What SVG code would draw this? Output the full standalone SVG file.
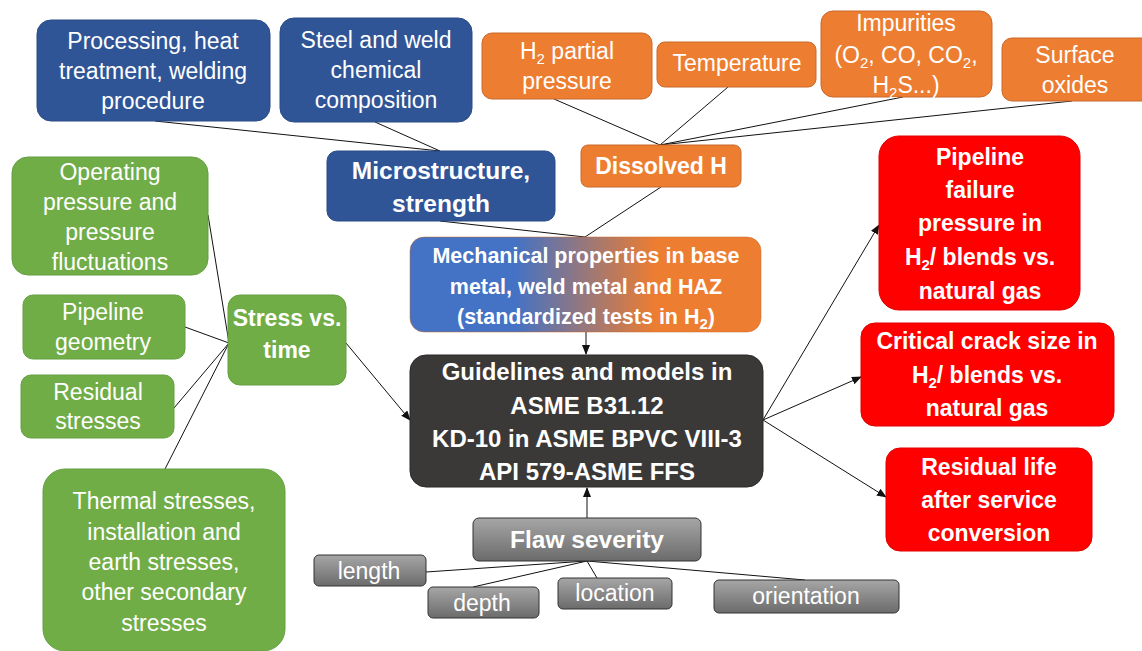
<svg xmlns="http://www.w3.org/2000/svg" width="1142" height="651" viewBox="0 0 1142 651">
<style>
text{font-family:"Liberation Sans",Arial,sans-serif;fill:#fff;text-anchor:middle}
.r{font-size:23px}
.b{font-size:23px;font-weight:bold}
.bl{font-size:24.5px;font-weight:bold}
.bg{font-size:24px;font-weight:bold}
.bm{font-size:21.5px;font-weight:bold}
.blue{fill:#2F5597;stroke:#2a4b85;stroke-width:1}
.orange{fill:#ED7D31;stroke:#c9692a;stroke-width:1}
.green{fill:#70AD47;stroke:#64a03f;stroke-width:1}
.red{fill:#FF0000;stroke:#e00000;stroke-width:1}
.dark{fill:#3B3838;stroke:#2a2828;stroke-width:1}
.gray{fill:url(#gg);stroke:#333;stroke-width:1}
.ln{stroke:#111;stroke-width:1;fill:none}
.ar{stroke:#111;stroke-width:1;fill:none;marker-end:url(#ah)}
.sub{font-size:15px}
</style>
<defs>
<linearGradient id="gg" x1="0" y1="0" x2="0" y2="1"><stop offset="0" stop-color="#a6a6a6"/><stop offset="1" stop-color="#6b6b6b"/></linearGradient>
<linearGradient id="mg" x1="0" y1="0" x2="1" y2="0"><stop offset="0" stop-color="#4472C4"/><stop offset="0.3" stop-color="#4472C4"/><stop offset="0.7" stop-color="#ED7D31"/><stop offset="1" stop-color="#ED7D31"/></linearGradient>
<marker id="ah" markerWidth="10" markerHeight="8" refX="9" refY="4" orient="auto" markerUnits="userSpaceOnUse"><path d="M0,0 L10,4 L0,8 z" fill="#111"/></marker>
</defs>
<g id="connectors">
<path class="ln" d="M155,121 L440,151"/>
<path class="ln" d="M375,122 L440,151"/>
<path class="ln" d="M440,221 L585,237"/>
<path class="ln" d="M661,187 L585,237"/>
<path class="ln" d="M554,99 L660,145"/>
<path class="ln" d="M728,87 L660,145"/>
<path class="ln" d="M903,97 L660,145"/>
<path class="ln" d="M1072,101 L660,145"/>
<path class="ar" d="M586,332 L586,354"/>
<path class="ar" d="M587,518 L587,488"/>
<path class="ln" d="M587,561 L426,572"/>
<path class="ln" d="M587,561 L473,587"/>
<path class="ln" d="M587,561 L597,578"/>
<path class="ln" d="M587,561 L805,580"/>
<path class="ln" d="M208,215 L229,343"/>
<path class="ln" d="M185,327 L229,343"/>
<path class="ln" d="M174,408 L229,343"/>
<path class="ln" d="M165,469 L229,343"/>
<path class="ar" d="M346,343 L410,420"/>
<path class="ar" d="M763,420 L879,225"/>
<path class="ar" d="M763,420 L861,377"/>
<path class="ar" d="M763,420 L886,497"/>
</g>
<g id="processing"><rect class="blue" x="37" y="20" width="233" height="101" rx="14"/>
<text class="r"><tspan x="153" y="49">Processing, heat</tspan><tspan x="153" y="79">treatment, welding</tspan><tspan x="153" y="109">procedure</tspan></text></g>
<g id="steel"><rect class="blue" x="280" y="18" width="192" height="104" rx="14"/>
<text class="r"><tspan x="376" y="48">Steel and weld</tspan><tspan x="376" y="78">chemical</tspan><tspan x="376" y="108">composition</tspan></text></g>
<g id="microstructure"><rect class="blue" x="327" y="151" width="228" height="70" rx="10"/>
<text class="bl"><tspan x="441" y="179">Microstructure,</tspan><tspan x="441" y="212">strength</tspan></text></g>
<g id="h2pp"><rect class="orange" x="482" y="33" width="170" height="66" rx="10"/>
<text class="r"><tspan x="567" y="59">H<tspan class="sub" dy="5">2</tspan><tspan dy="-5"> partial</tspan></tspan><tspan x="567" y="89">pressure</tspan></text></g>
<g id="temperature"><rect class="orange" x="657" y="42" width="159" height="45" rx="8"/>
<text class="r" x="737" y="71">Temperature</text></g>
<g id="impurities"><rect class="orange" x="821" y="11" width="171" height="86" rx="12"/>
<text class="r"><tspan x="906" y="31">Impurities</tspan><tspan x="906" y="63">(O<tspan class="sub" dy="5">2</tspan><tspan dy="-5">, CO, CO</tspan><tspan class="sub" dy="5">2</tspan><tspan dy="-5">,</tspan></tspan><tspan x="906" y="93">H<tspan class="sub" dy="5">2</tspan><tspan dy="-5">S...)</tspan></tspan></text></g>
<g id="surface"><rect class="orange" x="1002" y="38" width="150" height="63" rx="10"/>
<text class="r"><tspan x="1075" y="63">Surface</tspan><tspan x="1075" y="93">oxides</tspan></text></g>
<g id="dissolved"><rect class="orange" x="581" y="145" width="160" height="42" rx="7"/>
<text class="b" x="661" y="174">Dissolved H</text></g>
<g id="mechanical"><rect x="410" y="237" width="351" height="95" rx="14" fill="url(#mg)" stroke="#c9692a" stroke-width="0.5"/>
<text class="bm"><tspan x="586" y="263">Mechanical properties in base</tspan><tspan x="586" y="294">metal, weld metal and HAZ</tspan><tspan x="586" y="324">(standardized tests in H<tspan class="sub" dy="5">2</tspan><tspan dy="-5">)</tspan></tspan></text></g>
<g id="guidelines"><rect class="dark" x="410" y="355" width="353" height="132" rx="16"/>
<text class="bg"><tspan x="587" y="380">Guidelines and models in</tspan><tspan x="587" y="414">ASME B31.12</tspan><tspan x="587" y="447">KD-10 in ASME BPVC VIII-3</tspan><tspan x="587" y="480">API 579-ASME FFS</tspan></text></g>
<g id="flaw"><rect class="gray" x="473" y="518" width="228" height="43" rx="6"/>
<text class="bl" x="587" y="548">Flaw severity</text></g>
<g id="length"><rect class="gray" x="314" y="555" width="112" height="31" rx="5"/>
<text class="r" x="369" y="579">length</text></g>
<g id="depth"><rect class="gray" x="428" y="587" width="111" height="31" rx="5"/>
<text class="r" x="482" y="611">depth</text></g>
<g id="location"><rect class="gray" x="558" y="578" width="114" height="31" rx="5"/>
<text class="r" x="615" y="601">location</text></g>
<g id="orientation"><rect class="gray" x="714" y="580" width="185" height="33" rx="5"/>
<text class="r" x="806" y="604">orientation</text></g>
<g id="operating"><rect class="green" x="12" y="157" width="196" height="118" rx="16"/>
<text class="r"><tspan x="110" y="180">Operating</tspan><tspan x="110" y="210">pressure and</tspan><tspan x="110" y="240">pressure</tspan><tspan x="110" y="270">fluctuations</tspan></text></g>
<g id="geometry"><rect class="green" x="23" y="295" width="162" height="64" rx="10"/>
<text class="r"><tspan x="103" y="320">Pipeline</tspan><tspan x="103" y="350">geometry</tspan></text></g>
<g id="residual"><rect class="green" x="21" y="375" width="153" height="63" rx="10"/>
<text class="r"><tspan x="98" y="400">Residual</tspan><tspan x="98" y="429">stresses</tspan></text></g>
<g id="thermal"><rect class="green" x="43" y="469" width="242" height="182" rx="22"/>
<text class="r"><tspan x="164" y="509">Thermal stresses,</tspan><tspan x="164" y="540">installation and</tspan><tspan x="164" y="570">earth stresses,</tspan><tspan x="164" y="600">other secondary</tspan><tspan x="164" y="631">stresses</tspan></text></g>
<g id="stress"><rect class="green" x="228" y="295" width="118" height="90" rx="12"/>
<text class="b"><tspan x="287" y="326">Stress vs.</tspan><tspan x="287" y="358">time</tspan></text></g>
<g id="failure"><rect class="red" x="879" y="136" width="201" height="174" rx="20"/>
<text class="b"><tspan x="980" y="165">Pipeline</tspan><tspan x="980" y="198">failure</tspan><tspan x="980" y="231">pressure in</tspan><tspan x="980" y="265">H<tspan class="sub" dy="5">2</tspan><tspan dy="-5">/ blends vs.</tspan></tspan><tspan x="980" y="299">natural gas</tspan></text></g>
<g id="crack"><rect class="red" x="861" y="323" width="253" height="103" rx="14"/>
<text class="b"><tspan x="987" y="349">Critical crack size in</tspan><tspan x="987" y="383">H<tspan class="sub" dy="5">2</tspan><tspan dy="-5">/ blends vs.</tspan></tspan><tspan x="987" y="416">natural gas</tspan></text></g>
<g id="life"><rect class="red" x="886" y="448" width="206" height="103" rx="14"/>
<text class="b"><tspan x="989" y="475">Residual life</tspan><tspan x="989" y="508">after service</tspan><tspan x="989" y="541">conversion</tspan></text></g>
</svg>
